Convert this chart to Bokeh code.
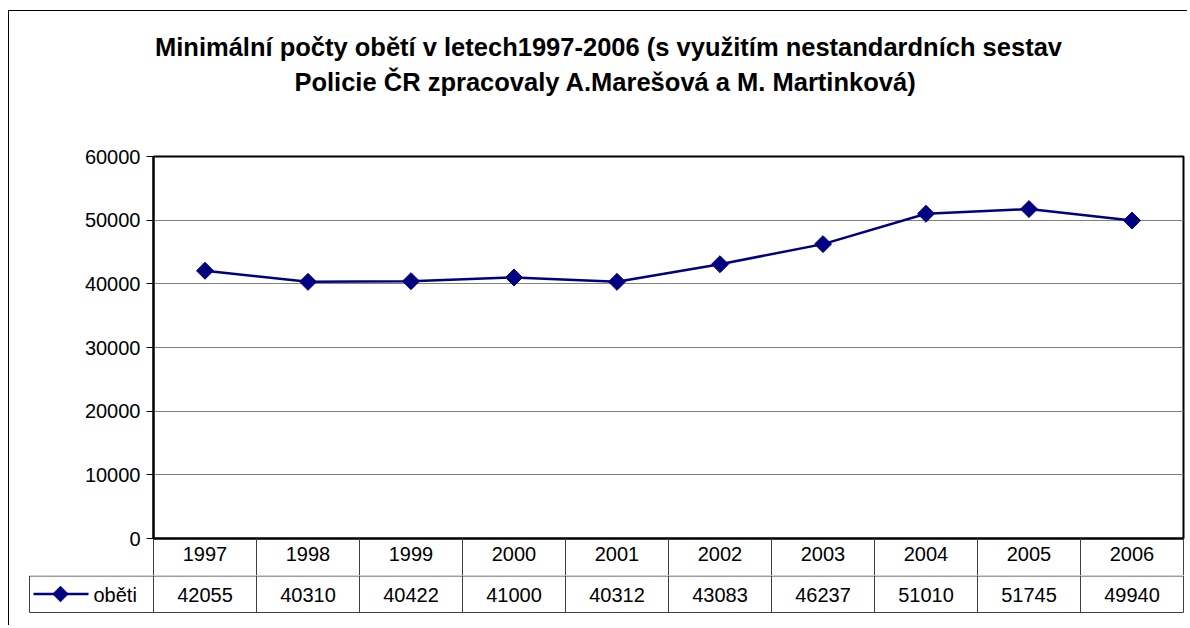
import math
from bokeh.plotting import figure
from bokeh.models import Range1d, FixedTicker
from bokeh.layouts import column
from bokeh.embed import file_html
from bokeh.resources import INLINE
from bokeh.core.properties import value

# ---------------- data ----------------
years = ["1997", "1998", "1999", "2000", "2001", "2002", "2003", "2004", "2005", "2006"]
victims = [42055, 40310, 40422, 41000, 40312, 43083, 46237, 51010, 51745, 49940]
y_ticks = [0, 10000, 20000, 30000, 40000, 50000, 60000]
series_name = "oběti"
title_lines = [
    "Minimální počty obětí v letech1997-2006 (s využitím nestandardních sestav",
    "Policie ČR zpracovaly A.Marešová a M. Martinková)",
]

# ---------------- style / layout ----------------
FONT = "Liberation Sans"
NAVY = "#000080"
GRID = "#808080"
TABLE = "#404040"

W = 1178            # figure width
LEFT = 144          # plot area left inside figure
FR_RIGHT = 1174     # plot area right inside figure
T_H = 133           # title figure height
A_TOP = 12
A_FRAME = 382
ROW = 37
B_H = 50
n = len(years)
k = (FR_RIGHT - LEFT) / n          # pixels per category
xs = [i + 0.5 for i in range(n)]
bounds = [float(i) for i in range(n + 1)]

# ---------------- title ----------------
t = figure(width=W, height=T_H, x_range=Range1d(0, W), y_range=Range1d(T_H, 0),
           output_backend="svg", toolbar_location=None, x_axis_location=None,
           y_axis_location=None, min_border=0)
t.outline_line_color = None
t.grid.visible = False
t.text(x=[599, 596], y=[35, 70], text=title_lines, text_align="center",
       text_baseline="middle", text_font=value(FONT), text_font_style="bold",
       text_font_size="25.5px", text_color="black")

# ---------------- main chart ----------------
p = figure(width=W, height=A_TOP + A_FRAME + ROW, x_range=Range1d(0, n),
           y_range=Range1d(y_ticks[0], y_ticks[-1]),
           output_backend="svg", toolbar_location=None,
           min_border_left=LEFT, min_border_right=W - FR_RIGHT,
           min_border_top=A_TOP, min_border_bottom=ROW)
p.outline_line_color = "black"
p.outline_line_width = 2
p.xgrid.visible = False
p.ygrid.ticker = FixedTicker(ticks=y_ticks)
p.ygrid.grid_line_color = GRID
p.ygrid.grid_line_width = 1

p.yaxis.ticker = FixedTicker(ticks=y_ticks)
p.yaxis.axis_line_color = "black"
p.yaxis.axis_line_width = 2
p.yaxis.major_tick_out = 7
p.yaxis.major_tick_in = 0
p.yaxis.minor_tick_out = 0
p.yaxis.minor_tick_in = 0
p.yaxis.major_tick_line_color = "black"
p.yaxis.major_label_text_font = FONT
p.yaxis.major_label_text_font_size = "20px"
p.yaxis.major_label_text_color = "black"
p.yaxis.major_label_standoff = 6

# header row of the data table as the x axis
p.xaxis.ticker = FixedTicker(ticks=xs, minor_ticks=bounds)
p.xaxis.major_label_overrides = {x: y for x, y in zip(xs, years)}
p.xaxis.major_tick_line_color = None
p.xaxis.major_tick_out = 0
p.xaxis.major_tick_in = 0
p.xaxis.minor_tick_out = ROW
p.xaxis.minor_tick_in = 0
p.xaxis.minor_tick_line_color = TABLE
p.xaxis.minor_tick_line_width = 1
p.xaxis.axis_line_color = "black"
p.xaxis.axis_line_width = 2
p.xaxis.major_label_text_font = FONT
p.xaxis.major_label_text_font_size = "20px"
p.xaxis.major_label_text_color = "black"
p.xaxis.major_label_standoff = -(ROW - 8)

p.line(xs, victims, line_color=NAVY, line_width=2.5)
p.scatter(xs, victims, marker="square", size=12, angle=math.pi / 4,
          fill_color=NAVY, line_color=NAVY)

# ---------------- value row of the data table ----------------
B_LEFT = 18
q = figure(width=W, height=B_H, x_range=Range1d(-(LEFT - B_LEFT) / k, n + 1 / k),
           y_range=Range1d(B_H, 0), output_backend="svg", toolbar_location=None,
           x_axis_location=None, y_axis_location=None,
           min_border_left=B_LEFT, min_border_right=W - FR_RIGHT - 1,
           min_border_top=0, min_border_bottom=0)
q.outline_line_color = None
q.grid.visible = False

leg_left = -(LEFT - (B_LEFT + 2)) / k
x0s = bounds + [leg_left, leg_left, leg_left]
x1s = bounds + [leg_left, float(n), float(n)]
y0s = [0.0] * (n + 1) + [0.5, 0.5, ROW]
y1s = [ROW] * (n + 1) + [ROW, 0.5, ROW]
q.segment(x0=x0s, y0=y0s, x1=x1s, y1=y1s, line_color=TABLE, line_width=1)

q.text(x=xs, y=[ROW / 2 + 0.5] * n, text=[str(v) for v in victims], text_align="center",
       text_baseline="middle", text_font=value(FONT), text_font_size="20px", text_color="black")

# legend key
kx0 = (24 - LEFT) / k
kx1 = (79 - LEFT) / k
kxm = (51 - LEFT) / k
ktx = (84 - LEFT) / k
q.line([kx0, kx1], [ROW / 2, ROW / 2], line_color=NAVY, line_width=2.5)
q.scatter([kxm], [ROW / 2], marker="square", size=11, angle=math.pi / 4,
          fill_color=NAVY, line_color=NAVY)
q.text(x=[ktx], y=[ROW / 2 + 0.5], text=[series_name], text_align="left", text_baseline="middle",
       text_font=value(FONT), text_font_size="20px", text_color="black")

layout = column(column(t), column(p), column(q), spacing=0,
                styles={"margin-left": "8px", "margin-top": "10px",
                        "border-left": "1px solid #000", "border-top": "1px solid #000"})

open("out.html", "w").write(file_html(layout, INLINE))
